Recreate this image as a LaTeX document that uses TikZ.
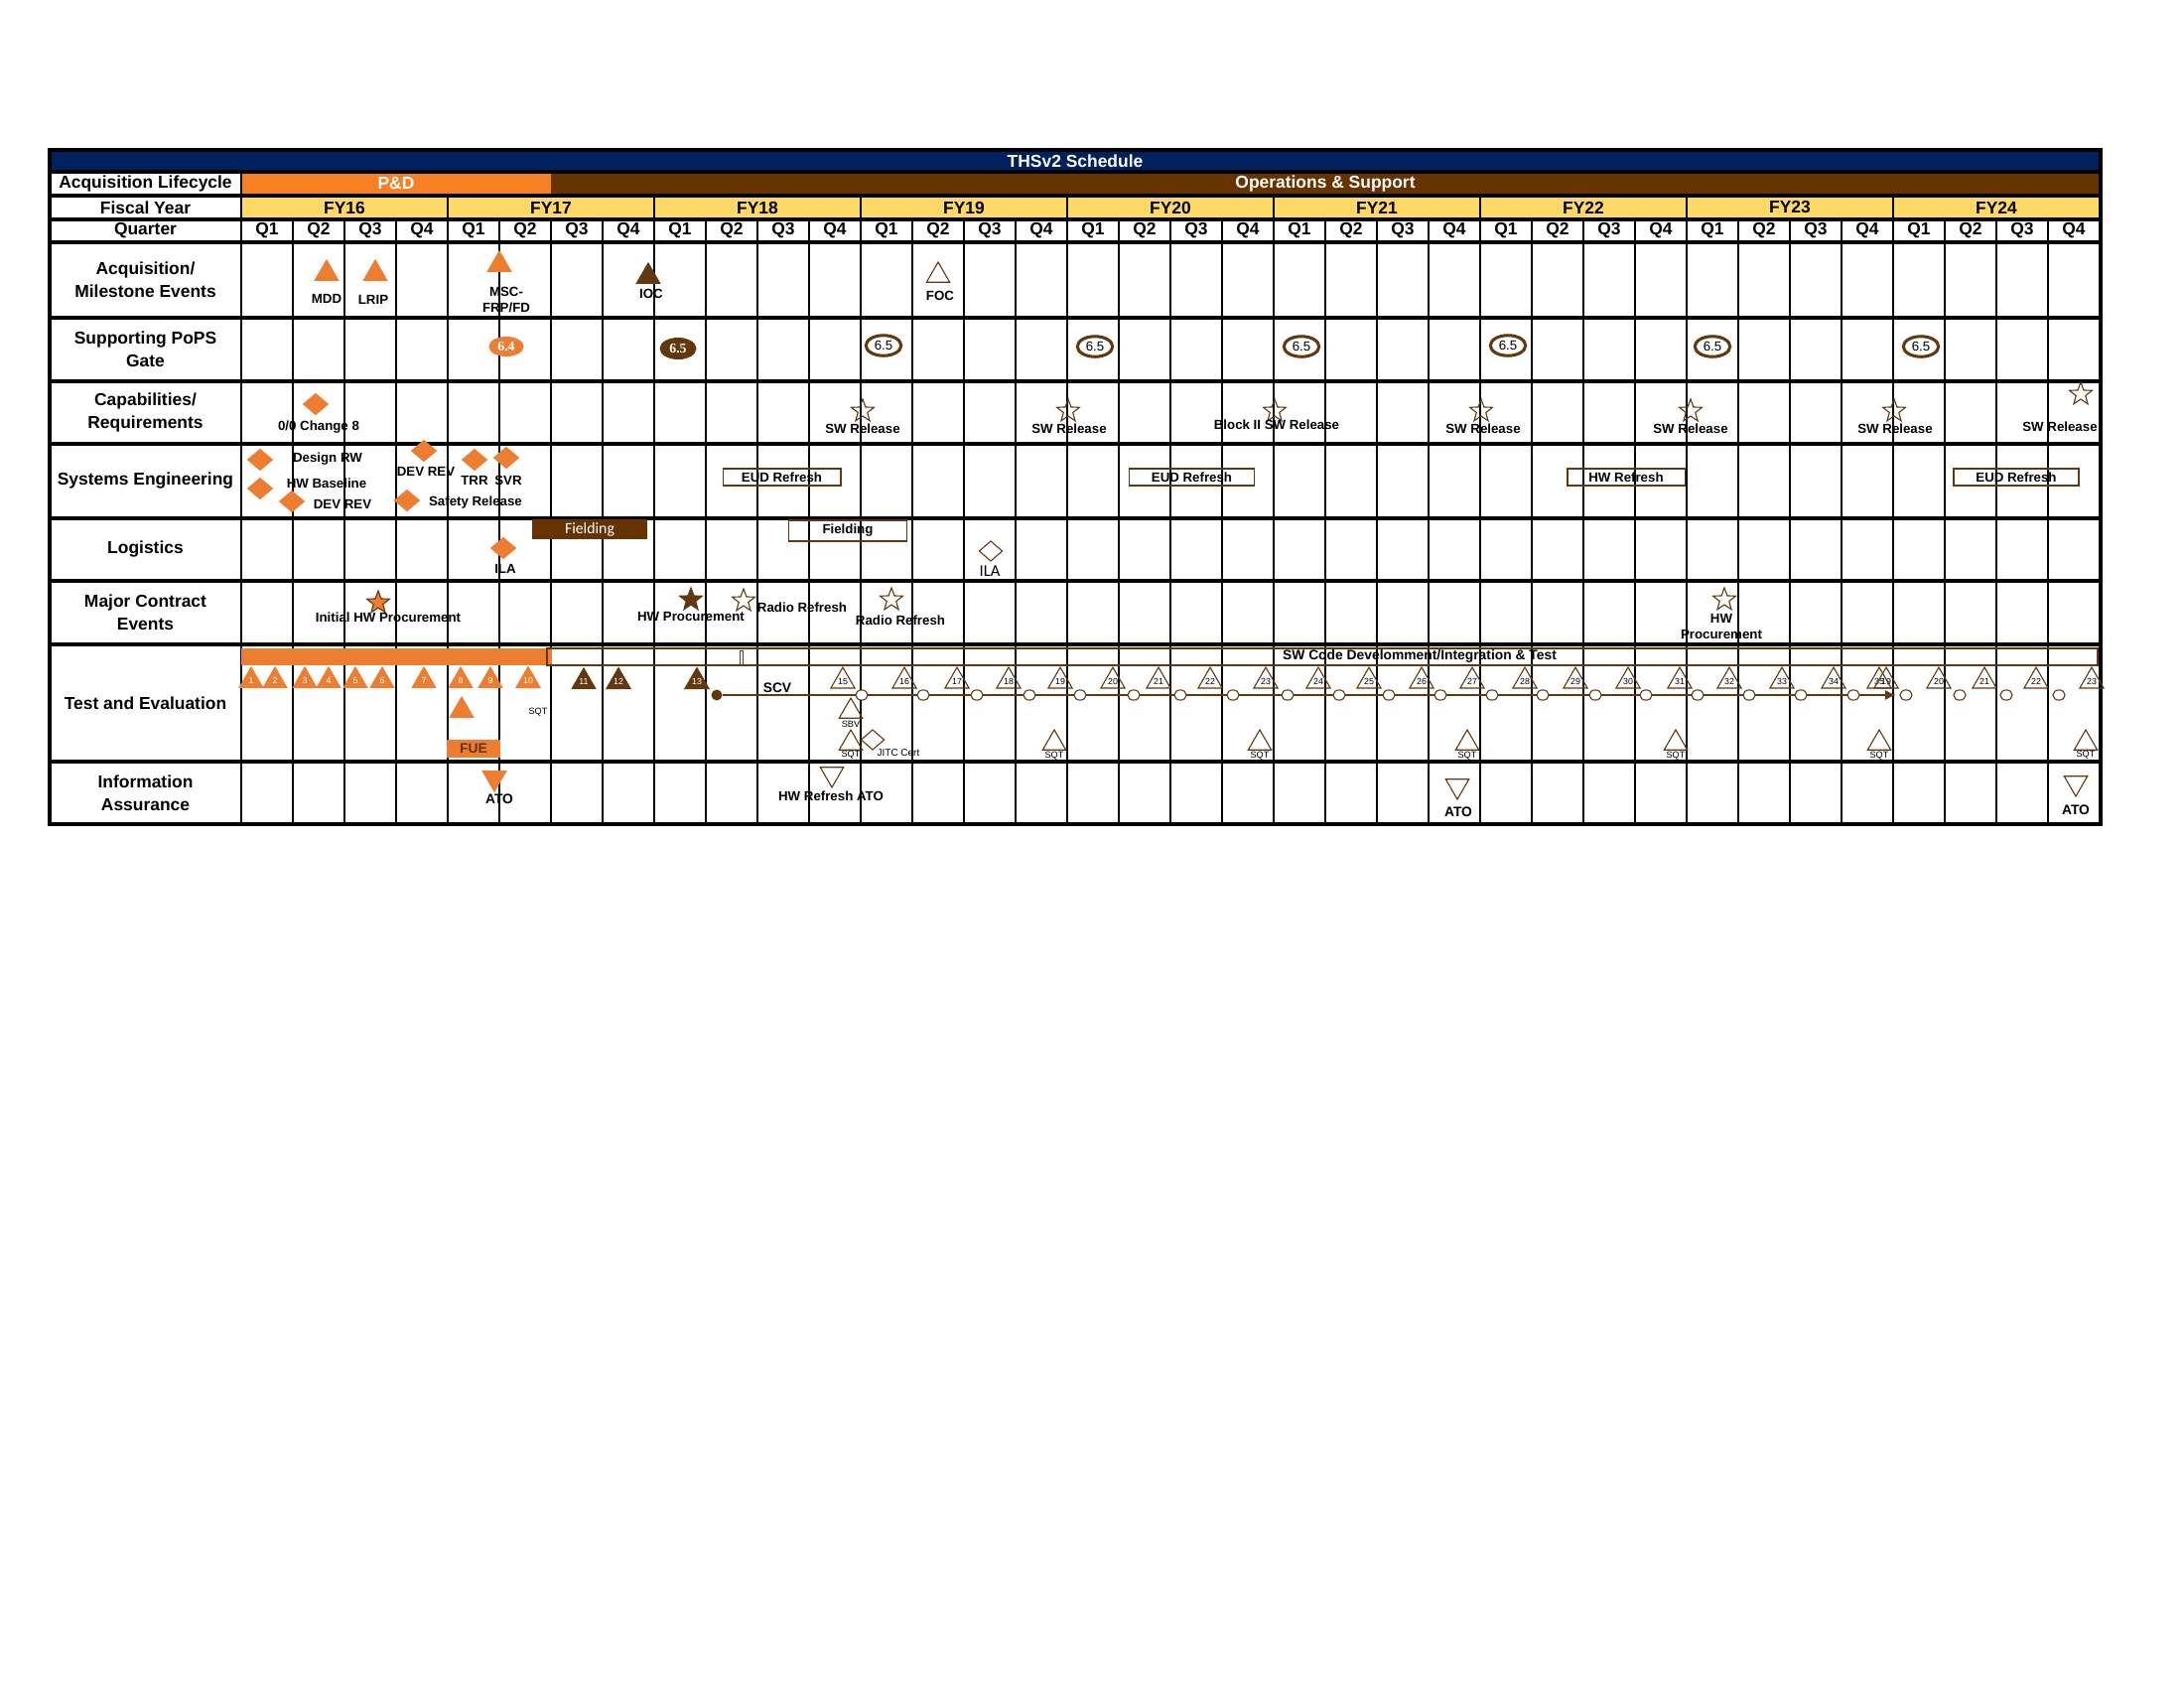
\documentclass[tikz,border=0pt]{standalone}
\usepackage{fontspec}
\setmainfont{Liberation Sans}
\newfontfamily\calFont{Carlito}
\newfontfamily\serFont{Liberation Serif}
\usetikzlibrary{shapes.geometric,arrows.meta}
\definecolor{navyBar}{RGB}{0,32,96}
\definecolor{pdOrange}{RGB}{248,128,36}
\definecolor{evOrange}{RGB}{237,125,49}
\definecolor{osBrown}{RGB}{102,51,0}
\definecolor{evBrown}{RGB}{99,56,14}
\definecolor{fyYellow}{RGB}{255,217,102}
\begin{document}
\begin{tikzpicture}[x=0.127mm, y=-0.127mm,
    rowLabel/.style={font=\fontsize{6.3}{8.3}\selectfont\bfseries, align=center, inner sep=0},
    headLabel/.style={font=\fontsize{6.3}{7}\selectfont\bfseries, inner sep=0},
    evLabel/.style={font=\fontsize{4.8}{5.6}\selectfont\bfseries, align=center, inner sep=0},
    tinyLabel/.style={font=\fontsize{3.3}{4}\selectfont, inner sep=0},
    upTri/.style={regular polygon, regular polygon sides=3, minimum size=3.43mm, inner sep=0, font=\fontsize{3.2}{3.5}\selectfont},
    downTri/.style={upTri, shape border rotate=180},
    orangeTri/.style={upTri, fill=evOrange, draw=evOrange, text=white},
    brownTri/.style={upTri, fill=evBrown, draw=evBrown, text=white},
    openTri/.style={upTri, draw=evBrown, line width=0.4pt},
    orangeDia/.style={diamond, minimum width=3.2mm, minimum height=2.7mm, inner sep=0, fill=evOrange, draw=evOrange},
    openDia/.style={diamond, minimum width=3.0mm, minimum height=2.6mm, inner sep=0, draw=evBrown, line width=0.4pt},
    evStar/.style={star, star points=5, star point ratio=2.4, minimum size=3.05mm, inner sep=0, draw=evBrown, line width=0.4pt},
    popsFill/.style={ellipse, minimum width=4.7mm, minimum height=2.8mm, inner sep=0, fill=evBrown, text=white, font={\serFont\bfseries\fontsize{5}{6}\selectfont}},
    popsOpen/.style={ellipse, minimum width=4.5mm, minimum height=2.6mm, inner sep=0, draw=evBrown, line width=1.1pt, fill=white, font=\fontsize{4.8}{5}\selectfont},
    refBox/.style={draw=evBrown, line width=0.4pt, inner sep=0, font=\fontsize{4.8}{5}\selectfont\bfseries},
    scvCirc/.style={ellipse, minimum width=1.55mm, minimum height=1.3mm, inner sep=0, draw=evBrown, line width=0.4pt, fill=white},
    gridLine/.style={line width=0.9pt},
    rowLine/.style={line width=1.1pt}]

    \useasboundingbox (0,0) rectangle (2200,1700);

    \fill[navyBar] (50,151) rectangle (2116,173);
    \fill[pdOrange] (243,173) rectangle (555,197);
    \fill[osBrown] (555,173) rectangle (2116,197);
    \fill[fyYellow] (243,197) rectangle (2116,221);
    \foreach \yy in {173,197,221,244,320,384,447,522,585,649,767}
        \draw[rowLine] (50,\yy) -- (2116,\yy);
    \draw[gridLine] (243,173) -- (243,830);
    \foreach \f in {1,...,8}
        \draw[gridLine] ({243+208*\f},197) -- ({243+208*\f},830);
    \foreach \q in {1,...,35}
        \draw[gridLine] ({243+52*\q},221) -- ({243+52*\q},830);
    \draw[line width=1.3pt] (50,151) rectangle (2116,830);

    \node[headLabel, text=white] (title) at (1083,162) {THSv2 Schedule};
    \node[headLabel, text=white] (pd) at (399,185) {P\&D};
    \node[headLabel, text=white] (os) at (1335,185) {Operations \& Support};
    \foreach \f [evaluate=\f as \yr using {int(16+\f)}] in {0,...,8}
        \node[headLabel] (fy\f) at ({347+208*\f},209) {FY\yr};
    \foreach \q [evaluate=\q as \qn using {int(mod(\q,4)+1)}] in {0,...,35}
        \node[headLabel] (q\q) at ({269+52*\q},232.5) {Q\qn};

    \node[rowLabel] (lblLife) at (146.5,185) {Acquisition Lifecycle};
    \node[rowLabel] (lblFy) at (146.5,209) {Fiscal Year};
    \node[rowLabel] (lblQ) at (146.5,232.5) {Quarter};
    \node[rowLabel] (lblAcq) at (146.5,282) {Acquisition/\\Milestone Events};
    \node[rowLabel] (lblPops) at (146.5,352) {Supporting PoPS\\Gate};
    \node[rowLabel] (lblCap) at (146.5,415.5) {Capabilities/\\Requirements};
    \node[rowLabel] (lblSe) at (146.5,484.5) {Systems Engineering};
    \node[rowLabel] (lblLog) at (146.5,553.5) {Logistics};
    \node[rowLabel] (lblMce) at (146.5,617) {Major Contract\\Events};
    \node[rowLabel] (lblTe) at (146.5,708) {Test and Evaluation};
    \node[rowLabel] (lblIa) at (146.5,798.5) {Information\\Assurance};

    \node[orangeTri] (mdd) at (329,275.5) {};
    \node[evLabel] (mddL) at (329,301) {MDD};
    \node[orangeTri] (lrip) at (378,275.5) {};
    \node[evLabel] (lripL) at (376,302) {LRIP};
    \node[orangeTri] (msc) at (503,266.5) {};
    \node[evLabel] (mscL) at (510,302) {MSC-\\FRP/FD};
    \node[brownTri] (ioc) at (653,278.5) {};
    \node[evLabel] (iocL) at (656,296) {IOC};
    \node[openTri] (foc) at (945,277.5) {};
    \node[evLabel] (focL) at (947,298) {FOC};

    \node[popsFill, fill=evOrange, minimum width=4.45mm, minimum height=2.55mm] (p64) at (510,349) {6.4};
    \node[popsFill] (p65) at (683,351) {6.5};
    \node[popsOpen] (p65a) at (890,348) {6.5};
    \node[popsOpen] (p65b) at (1103,349) {6.5};
    \node[popsOpen] (p65c) at (1311,349) {6.5};
    \node[popsOpen] (p65d) at (1519,348) {6.5};
    \node[popsOpen] (p65e) at (1725,349) {6.5};
    \node[popsOpen] (p65f) at (1935,349) {6.5};

    \node[orangeDia] (oo8) at (318,407) {};
    \node[evLabel] (oo8L) at (321,430) {0/0 Change 8};
    \node[evStar] (sw1) at (869,414) {};
    \node[evLabel] (sw1L) at (869,432) {SW Release};
    \node[evStar] (sw2) at (1076,414) {};
    \node[evLabel] (sw2L) at (1077,432) {SW Release};
    \node[evStar] (sw3) at (1284,414) {};
    \node[evLabel] (sw3L) at (1286,428) {Block II SW Release};
    \node[evStar] (sw4) at (1492,414) {};
    \node[evLabel] (sw4L) at (1494,432) {SW Release};
    \node[evStar] (sw5) at (1703,414) {};
    \node[evLabel] (sw5L) at (1703,432) {SW Release};
    \node[evStar] (sw6) at (1908,414) {};
    \node[evLabel] (sw6L) at (1909,432) {SW Release};
    \node[evStar] (sw7) at (2096,397) {};
    \node[evLabel] (sw7L) at (2075,430) {SW Release};

    \node[orangeDia] (dsgn) at (262,463) {};
    \node[evLabel] (dsgnL) at (330,462) {Design RW};
    \node[orangeDia] (hwb) at (262,492) {};
    \node[evLabel] (hwbL) at (329,487) {HW Baseline};
    \node[orangeDia] (dev1) at (294,505) {};
    \node[evLabel] (dev1L) at (345,508) {DEV REV};
    \node[orangeDia] (dev2) at (427,454) {};
    \node[evLabel] (dev2L) at (429,475) {DEV REV};
    \node[orangeDia] (trr) at (478,463) {};
    \node[evLabel] (trrL) at (478,484) {TRR};
    \node[orangeDia] (svr) at (510,461) {};
    \node[evLabel] (svrL) at (512,484) {SVR};
    \node[orangeDia] (saf) at (410,504) {};
    \node[evLabel] (safL) at (479,506) {Safety Release};
    \node[refBox, minimum width=15.1mm, minimum height=2.16mm] (eud1) at (787.5,480.5) {EUD Refresh};
    \node[refBox, minimum width=16.0mm, minimum height=2.16mm] (eud2) at (1200.5,480.5) {EUD Refresh};
    \node[refBox, minimum width=15.0mm, minimum height=2.16mm] (hwr) at (1638,480.5) {HW Refresh};
    \node[refBox, minimum width=16.0mm, minimum height=2.16mm] (eud3) at (2031,480.5) {EUD Refresh};

    \node[fill=osBrown, text=white, inner sep=0, minimum width=14.7mm, minimum height=2.54mm, font=\calFont\fontsize{5.7}{6}\selectfont] (fld1) at (594,533) {Fielding};
    \node[refBox, minimum width=15.2mm, minimum height=2.67mm] (fld2) at (854,534.5) {Fielding};
    \node[orangeDia] (ila1) at (507,552) {};
    \node[evLabel] (ila1L) at (509,573) {ILA};
    \node[openDia] (ila2) at (998,555) {};
    \node[inner sep=0, font=\calFont\fontsize{6}{6}\selectfont] (ila2L) at (997,575) {ILA};

    \node[evStar, fill=evOrange] (ihw) at (381,607) {};
    \node[evLabel] (ihwL) at (391,622) {Initial HW Procurement};
    \node[evStar, fill=evBrown] (hwp1) at (696,604) {};
    \node[evLabel] (hwp1L) at (696,621) {HW Procurement};
    \node[evStar] (rad1) at (749,605) {};
    \node[evLabel] (rad1L) at (808,612) {Radio Refresh};
    \node[evStar] (rad2) at (898,604) {};
    \node[evLabel] (rad2L) at (907,625) {Radio Refresh};
    \node[evStar] (hwp2) at (1737,604) {};
    \node[evLabel] (hwp2L) at (1734,631) {HW\\Procurement};

    \fill[evOrange] (243,653) rectangle (556,670);
    \draw[evBrown, line width=0.5pt] (551,653) rectangle (2113,670);
    \draw[evBrown, line width=0.3pt] (745,655) rectangle (748,670);
    \node[evLabel, font=\fontsize{5}{6}\selectfont\bfseries] (swCode) at (1430,661) {SW Code Develomment/Integration \& Test};

    \node[orangeTri] (t1) at (253,685.5) {1};
    \node[orangeTri] (t2) at (277,685.5) {2};
    \node[orangeTri] (t3) at (307,685.5) {3};
    \node[orangeTri] (t4) at (331,685.5) {4};
    \node[orangeTri] (t5) at (358,685.5) {5};
    \node[orangeTri] (t6) at (385,685.5) {6};
    \node[orangeTri] (t7) at (427,685.5) {7};
    \node[orangeTri] (t8) at (464,685.5) {8};
    \node[orangeTri] (t9) at (494,685.5) {9};
    \node[orangeTri] (t10) at (532,685.5) {10};
    \node[brownTri] (t11) at (588,686.5) {11};
    \node[brownTri] (t12) at (623,686.5) {12};
    \node[brownTri] (t13) at (702,686.5) {13};
    \node[orangeTri] (fueTri) at (465,715.5) {};
    \node[fill=evOrange, inner sep=0, minimum width=6.86mm, minimum height=2.29mm, font=\fontsize{5}{6}\selectfont\bfseries, text=osBrown] (fue) at (477,754) {FUE};
    \node[tinyLabel] (sqt0) at (542,717) {SQT};

    \node[circle, fill=evBrown, inner sep=0, minimum size=1.4mm] (scvDot) at (722,700) {};
    \coordinate (scvEnd) at (1910,700);
    \draw[evBrown, line width=0.7pt, -{Latex[length=1.4mm, width=1.3mm]}] (scvDot) -- (scvEnd);
    \node[evLabel, font=\fontsize{5}{6}\selectfont\bfseries] (scvL) at (783,693) {SCV};

    \node[scvCirc] (c1) at (868,700) {};
    \node[scvCirc] (c2) at (930,700) {};
    \node[scvCirc] (c3) at (984,700) {};
    \node[scvCirc] (c4) at (1037,700) {};
    \node[scvCirc] (c5) at (1088,700) {};
    \node[scvCirc] (c6) at (1142,700) {};
    \node[scvCirc] (c7) at (1189,700) {};
    \node[scvCirc] (c8) at (1242,700) {};
    \node[scvCirc] (c9) at (1297,700) {};
    \node[scvCirc] (c10) at (1349,700) {};
    \node[scvCirc] (c11) at (1399,700) {};
    \node[scvCirc] (c12) at (1451,700) {};
    \node[scvCirc] (c13) at (1503,700) {};
    \node[scvCirc] (c14) at (1554,700) {};
    \node[scvCirc] (c15) at (1607,700) {};
    \node[scvCirc] (c16) at (1658,700) {};
    \node[scvCirc] (c17) at (1710,700) {};
    \node[scvCirc] (c18) at (1762,700) {};
    \node[scvCirc] (c19) at (1814,700) {};
    \node[scvCirc] (c20) at (1867,700) {};
    \node[scvCirc] (c21) at (1920,700) {};
    \node[scvCirc] (c22) at (1974,700) {};
    \node[scvCirc] (c23) at (2021,700) {};
    \node[scvCirc] (c24) at (2074,700) {};

    \node[openTri] (t15) at (849,686) {15};
    \node[openTri] (t16) at (911,686) {16};
    \node[openTri] (t17) at (964,686) {17};
    \node[openTri] (t18) at (1016,686) {18};
    \node[openTri] (t19) at (1068,686) {19};
    \node[openTri] (t20) at (1121,686) {20};
    \node[openTri] (t21) at (1167,686) {21};
    \node[openTri] (t22) at (1219,686) {22};
    \node[openTri] (t23) at (1275,686) {23};
    \node[openTri] (t24) at (1328,686) {24};
    \node[openTri] (t25) at (1379,686) {25};
    \node[openTri] (t26) at (1432,686) {26};
    \node[openTri] (t27) at (1483,686) {27};
    \node[openTri] (t28) at (1536,686) {28};
    \node[openTri] (t29) at (1587,686) {29};
    \node[openTri] (t30) at (1640,686) {30};
    \node[openTri] (t31) at (1692,686) {31};
    \node[openTri] (t32) at (1742,686) {32};
    \node[openTri] (t33) at (1795,686) {33};
    \node[openTri] (t34) at (1847,686) {34};
    \node[openTri] (t35) at (1893,686) {35};
    \node[openTri] (u19) at (1900,686) {19};
    \node[openTri] (u20) at (1953,686) {20};
    \node[openTri] (u21) at (1999,686) {21};
    \node[openTri] (u22) at (2051,686) {22};
    \node[openTri] (u23) at (2107,686) {23};

    \node[openTri] (sbv) at (857,716.5) {};
    \node[tinyLabel] (sbvL) at (857,729) {SBV};
    \node[openTri] (sqt1) at (857,748.5) {};
    \node[tinyLabel] (sqt1L) at (857,760) {SQT};
    \node[openDia] (jitc) at (879,745) {};
    \node[tinyLabel, font=\fontsize{3.6}{4}\selectfont] (jitcL) at (905,758) {JITC Cert};
    \node[openTri] (sqt2) at (1062,748.5) {};
    \node[tinyLabel] (sqt2L) at (1062,761) {SQT};
    \node[openTri] (sqt3) at (1269,748.5) {};
    \node[tinyLabel] (sqt3L) at (1269,761) {SQT};
    \node[openTri] (sqt4) at (1478,748.5) {};
    \node[tinyLabel] (sqt4L) at (1478,761) {SQT};
    \node[openTri] (sqt5) at (1688,748.5) {};
    \node[tinyLabel] (sqt5L) at (1688,761) {SQT};
    \node[openTri] (sqt6) at (1893,748.5) {};
    \node[tinyLabel] (sqt6L) at (1893,761) {SQT};
    \node[openTri] (sqt7) at (2101,748.5) {};
    \node[tinyLabel] (sqt7L) at (2101,760) {SQT};

    \node[orangeTri, shape border rotate=180] (ato1) at (498,783.5) {};
    \node[evLabel, font=\fontsize{5}{6}\selectfont\bfseries] (ato1L) at (503,805) {ATO};
    \node[openTri, shape border rotate=180] (ato2) at (838,779.5) {};
    \node[evLabel] (ato2L) at (837,802) {HW Refresh ATO};
    \node[openTri, shape border rotate=180] (ato3) at (1468,791.5) {};
    \node[evLabel, font=\fontsize{5}{6}\selectfont\bfseries] (ato3L) at (1469,818) {ATO};
    \node[openTri, shape border rotate=180] (ato4) at (2091,788.5) {};
    \node[evLabel, font=\fontsize{5}{6}\selectfont\bfseries] (ato4L) at (2091,816) {ATO};
\end{tikzpicture}
\end{document}
